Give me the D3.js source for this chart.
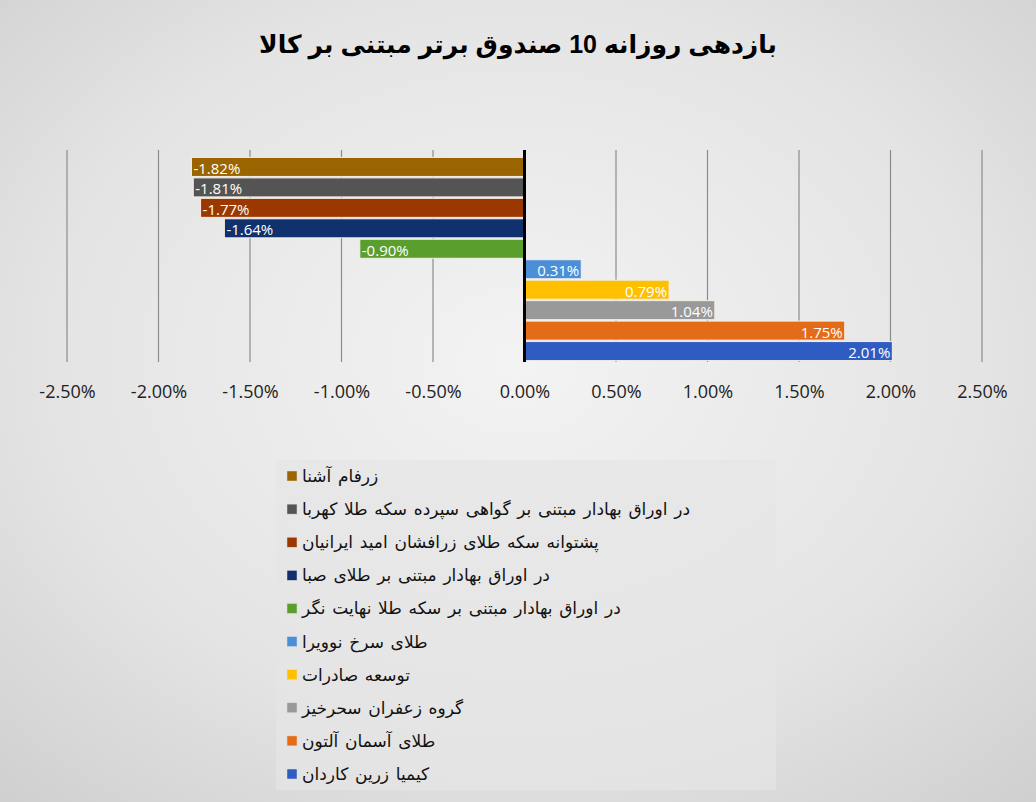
<!DOCTYPE html>
<html><head><meta charset="utf-8">
<script src="https://cdn.jsdelivr.net/npm/d3@7"></script>
<style>html,body{margin:0;padding:0;background:#fff;}svg{display:block;}</style>
</head><body>
<svg id="chart" width="1036" height="802"></svg>
<script>
const title = "بازدهی روزانه 10 صندوق برتر مبتنی بر کالا";
const funds = [
  "زرفام آشنا",
  "در اوراق بهادار مبتنی بر گواهی سپرده سکه طلا کهربا",
  "پشتوانه سکه طلای زرافشان امید ایرانیان",
  "در اوراق بهادار مبتنی بر طلای صبا",
  "در اوراق بهادار مبتنی بر سکه طلا نهایت نگر",
  "طلای سرخ نوویرا",
  "توسعه صادرات",
  "گروه زعفران سحرخیز",
  "طلای آسمان آلتون",
  "کیمیا زرین کاردان"
];
const returns = [-1.82, -1.81, -1.77, -1.64, -0.90, 0.31, 0.79, 1.04, 1.75, 2.01];
const colors = ["#9a6500", "#545454", "#9b3800", "#10306e", "#5a9e2e", "#4a8fd8", "#ffc000", "#999999", "#e46b17", "#2f5cc2"];
const tickValues = [-2.5, -2.0, -1.5, -1.0, -0.5, 0, 0.5, 1.0, 1.5, 2.0, 2.5];

const svg = d3.select("#chart");
const W = 1036, H = 802;

const defs = svg.append("defs");
const rg = defs.append("radialGradient").attr("id","bg").attr("cx","50%").attr("cy","45%").attr("r","75%");
rg.append("stop").attr("offset","0%").attr("stop-color","#f3f3f3");
rg.append("stop").attr("offset","60%").attr("stop-color","#e4e4e4");
rg.append("stop").attr("offset","100%").attr("stop-color","#cfcfcf");
svg.append("rect").attr("width",W).attr("height",H).attr("fill","url(#bg)");

svg.append("text").attr("x",518).attr("y",53).attr("text-anchor","middle")
  .attr("font-family","Arial, 'DejaVu Sans', sans-serif").attr("font-weight","bold")
  .attr("font-size",25).attr("fill","#000").attr("direction","rtl").text(title);

const x = d3.scaleLinear().domain([-2.5, 2.5]).range([67, 982]);
const y = d3.scaleBand().domain(funds).range([157, 361]).paddingInner(0.07).paddingOuter(0.02);

// gridlines
svg.append("g").selectAll("line").data(tickValues.filter(d => d !== 0)).join("line")
  .attr("x1", d => x(d)).attr("x2", d => x(d)).attr("y1", 150).attr("y2", 362)
  .attr("stroke", "#8c8c8c").attr("stroke-width", 1.2);

// bars
svg.append("g").selectAll("rect").data(funds).join("rect")
  .attr("x", (d,i) => Math.min(x(0), x(returns[i])))
  .attr("width", (d,i) => Math.abs(x(returns[i]) - x(0)))
  .attr("y", d => y(d)).attr("height", y.bandwidth())
  .attr("fill", (d,i) => colors[i])
  .attr("stroke", "#f4efe6").attr("stroke-width", 1);

// zero axis
svg.append("line").attr("x1", x(0)).attr("x2", x(0)).attr("y1", 150).attr("y2", 362)
  .attr("stroke", "#000").attr("stroke-width", 3);

// data labels
svg.append("g").selectAll("text").data(funds).join("text")
  .attr("x", (d,i) => returns[i] < 0 ? x(returns[i]) + 2 : x(returns[i]) - 2)
  .attr("y", d => y(d) + y.bandwidth()/2 + 7)
  .attr("text-anchor", (d,i) => returns[i] < 0 ? "start" : "end")
  .attr("font-family", "'Liberation Sans Narrow', 'Open Sans', Arial, sans-serif")
  .attr("font-size", 15).attr("fill", "#fff")
  .text((d,i) => returns[i].toFixed(2) + "%");

// x axis tick labels
const axis = d3.axisBottom(x).tickValues(tickValues).tickSize(0).tickFormat(d => d.toFixed(2) + "%");
const ag = svg.append("g").attr("transform", "translate(0,382)").call(axis);
ag.select(".domain").remove();
ag.selectAll("text").attr("font-family", "'Liberation Sans Narrow', 'Open Sans', Arial, sans-serif")
  .attr("font-size", 18).attr("fill", "#222");

// legend
const lg = svg.append("g");
lg.append("rect").attr("x", 276).attr("y", 460).attr("width", 500).attr("height", 330)
  .attr("fill", "#e6e6e6").attr("opacity", 0.7);
const ly = d3.scalePoint().domain(funds).range([476, 774]);
const items = lg.selectAll("g").data(funds).join("g")
  .attr("transform", d => `translate(287,${ly(d)})`);
items.append("rect").attr("x", 0).attr("y", -5).attr("width", 10).attr("height", 10)
  .attr("fill", (d,i) => colors[i]).attr("stroke", "#ddd").attr("stroke-width", 0.5);
items.append("text").attr("x", 15).attr("y", 6)
  .attr("font-family", "Arial, 'DejaVu Sans', sans-serif").attr("font-size", 17).attr("fill", "#111")
  .attr("word-spacing", 2)
  .attr("direction", "rtl").attr("text-anchor", "end")
  .text(d => d);
</script>
</body></html>
